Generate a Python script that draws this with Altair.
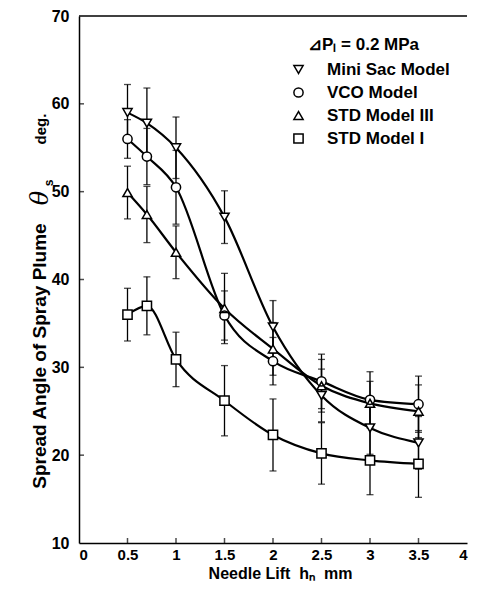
import altair as alt
import pandas as pd

# ---- data ----
needle_lift = [0.5, 0.7, 1.0, 1.5, 2.0, 2.5, 3.0, 3.5]
series_names = ["Mini Sac Model", "VCO Model", "STD Model III", "STD Model I"]
series_shapes = ["triangle-down", "circle", "triangle-up", "square"]

mini_sac = [59.0, 57.8, 55.0, 47.1, 34.6, 26.8, 23.1, 21.4]
mini_sac_err = [3.2, 4.0, 3.5, 3.0, 3.0, 3.0, 3.0, 3.0]
vco = [56.0, 54.0, 50.5, 35.9, 30.7, 28.4, 26.3, 25.8]
vco_err = [2.2, 3.2, 4.2, 2.8, 2.7, 3.1, 3.2, 3.2]
std3 = [49.9, 47.4, 43.1, 36.7, 32.1, 27.9, 25.9, 25.0]
std3_err = [3.0, 3.2, 3.0, 4.0, 3.0, 3.0, 2.5, 3.0]
std1 = [36.0, 37.0, 30.9, 26.2, 22.3, 20.2, 19.4, 19.0]
std1_err = [3.0, 3.3, 3.1, 4.0, 4.1, 3.5, 3.9, 3.8]

x_tick_values = [0, 0.5, 1, 1.5, 2, 2.5, 3, 3.5, 4]
y_tick_values = [10, 20, 30, 40, 50, 60, 70]
x_inner_ticks = [0.5, 1, 1.5, 2, 2.5, 3, 3.5]
y_inner_ticks = [20, 30, 40, 50, 60]

legend_title = "\u22bfP\u2097 = 0.2 MPa"
x_title = "Needle Lift\u00a0\u00a0h\u2099\u00a0\u00a0mm"
y_title_main = "Spread Angle of Spray Plume"
y_title_theta = "\u03b8"
y_title_sub = "s"
y_title_unit = "deg."

rows = []
for name, vals, errs in zip(series_names,
                            [mini_sac, vco, std3, std1],
                            [mini_sac_err, vco_err, std3_err, std1_err]):
    for x, v, e in zip(needle_lift, vals, errs):
        rows.append({"series": name, "x": x, "y": v, "lo": v - e, "hi": v + e})
df = pd.DataFrame(rows)

W, H = 388, 527
FONT = "Liberation Sans"

xs = alt.Scale(domain=[0, 4], nice=False, zero=False)
ys = alt.Scale(domain=[10, 70], nice=False, zero=False)

base = alt.Chart(df)

x_enc = alt.X("x:Q", scale=xs, axis=alt.Axis(values=x_tick_values, format="~g", title=x_title,
                                                 titleY=35, titleX=201,
                                                 titleBaseline="alphabetic"))
y_enc = alt.Y("y:Q", scale=ys, axis=alt.Axis(values=y_tick_values, title=None))

err_rules = base.mark_rule(color="black", strokeWidth=1.3).encode(
    x=alt.X("x:Q", scale=xs), y=alt.Y("lo:Q", scale=ys), y2="hi:Q")
cap_lo = base.mark_tick(orient="horizontal", color="black", size=7, thickness=1.3).encode(
    x=alt.X("x:Q", scale=xs), y=alt.Y("lo:Q", scale=ys))
cap_hi = base.mark_tick(orient="horizontal", color="black", size=7, thickness=1.3).encode(
    x=alt.X("x:Q", scale=xs), y=alt.Y("hi:Q", scale=ys))

lines = base.mark_line(interpolate="monotone", color="black", strokeWidth=2.2).encode(
    x=x_enc, y=y_enc, detail="series:N")

shape_scale = alt.Scale(domain=series_names, range=series_shapes)

points_bg = base.mark_point(filled=True, color="white", size=85, opacity=1).encode(
    x=alt.X("x:Q", scale=xs), y=alt.Y("y:Q", scale=ys),
    shape=alt.Shape("series:N", scale=shape_scale, legend=None))

points = base.mark_point(filled=False, color="black", strokeWidth=1.5, size=85,
                         opacity=1).encode(
    x=alt.X("x:Q", scale=xs), y=alt.Y("y:Q", scale=ys),
    shape=alt.Shape("series:N", scale=shape_scale, sort=series_names,
                    legend=alt.Legend(orient="none", legendX=211, legendY=45, title=None,
                                      labelFont=FONT, labelFontSize=17, labelFontWeight="bold",
                                      labelColor="black", labelOffset=20, rowPadding=5,
                                      symbolSize=85, symbolStrokeWidth=1.5,
                                      symbolStrokeColor="black",
                                      padding=0)))

xt = alt.Chart(pd.DataFrame({"v": x_inner_ticks})).mark_tick(
    color="black", size=5, thickness=1.5).encode(
    x=alt.X("v:Q", scale=xs), y=alt.value(H - 2.5))
yt = alt.Chart(pd.DataFrame({"v": y_inner_ticks})).mark_tick(
    color="black", size=5, thickness=1.5).encode(
    y=alt.Y("v:Q", scale=ys), x=alt.value(2.5))

top_rule = alt.Chart(pd.DataFrame({"a": [0]})).mark_rule(color="black", strokeWidth=1.5).encode(
    x=alt.datum(0, scale=xs), x2=alt.datum(4), y=alt.datum(70, scale=ys))

def label(text, x, y, size, angle=0, style="normal", weight="bold", font=FONT, align="center"):
    return alt.Chart(pd.DataFrame({"t": [text]})).mark_text(
        font=font, fontSize=size, fontWeight=weight, fontStyle=style, angle=angle,
        align=align, baseline="middle", color="black").encode(
        text="t:N", x=alt.value(x), y=alt.value(y))

t_legend = label(legend_title, 229, 29, 17, align="left")
t_y1 = label(y_title_main, -39, 340, 19, angle=270)
t_y2 = label(y_title_theta, -38, 182, 24, angle=270, style="italic", weight="normal",
             font="DejaVu Serif")
t_y3 = label(y_title_sub, -30, 167, 12, angle=270)
t_y4 = label(y_title_unit, -38, 113, 15, angle=270)

chart = alt.layer(err_rules, cap_lo, cap_hi, lines, points_bg, points, xt, yt, top_rule,
                  t_legend, t_y1, t_y2, t_y3, t_y4).resolve_legend(
    shape="independent"
).properties(
    width=W, height=H,
    autosize=alt.AutoSizeParams(type="none"),
    padding={"left": 71, "top": 8, "right": 2, "bottom": 39},
).configure_view(stroke=None).configure_axis(
    grid=False, ticks=False, domainColor="black", domainWidth=1.5,
    labelFont=FONT, labelFontSize=15, labelFontWeight="bold", labelColor="black",
    labelPadding=4, titleFont=FONT, titleFontSize=16, titleFontWeight="bold",
    titleColor="black",
).configure_axisY(labelFontSize=16, labelPadding=10)

chart.save("out.html", embed_options={"renderer": "svg", "actions": False})
